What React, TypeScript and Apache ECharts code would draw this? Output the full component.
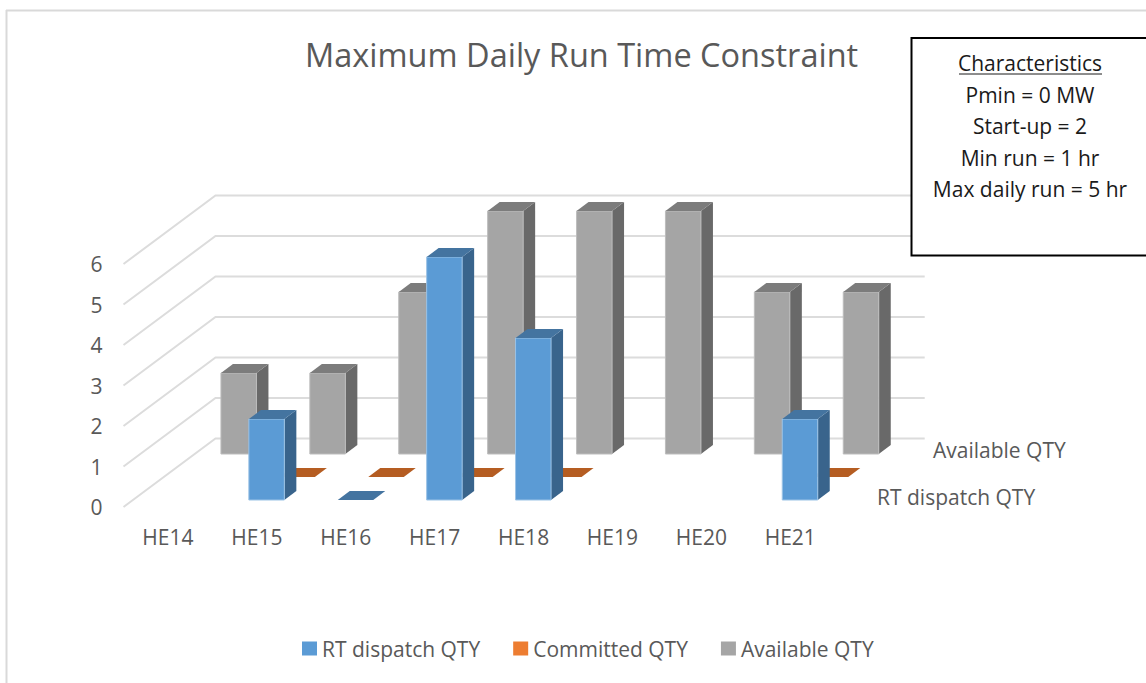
import React, { useEffect, useRef } from "react";
import * as echarts from "echarts";

const categories = ["HE14", "HE15", "HE16", "HE17", "HE18", "HE19", "HE20", "HE21"];
const yTicks = [0, 1, 2, 3, 4, 5, 6];
const rtValues: (number | null)[] = [null, 2, 0, 6, 4, null, null, 2];
const committed: (number | null)[] = [null, 0, 0, 0, 0, null, null, 0];
const available: (number | null)[] = [2, 2, 4, 6, 6, 6, 4, 4];
const boxLines = ["Pmin = 0 MW", "Start-up = 2", "Min run = 1 hr", "Max daily run = 5 hr"];

const FONT = "'Open Sans', sans-serif";
const DEPTH_X = 92;
const DEPTH_Y = 68.5;
const BAR_W = 35.5;
const TEXT_SIZE = 21;

function pts(values: (number | null)[]) {
  return values.map((v, i) => [i, v]).filter((d) => d[1] !== null);
}

function barRenderer(depth: number, front: string, top: string, side: string, edge: string) {
  return (_p: any, api: any) => {
    const cat = api.value(0);
    const v = api.value(1);
    const head = api.coord([cat, v]);
    const foot = api.coord([cat, 0]);
    const x0 = foot[0] - 8 + depth * 30.5;
    const x1 = x0 + BAR_W;
    const shift = 7 + depth * 23;
    const yB = foot[1] - shift;
    const yT = head[1] - shift;
    const sx = 12;
    const sy = 9;
    const children: any[] = [];
    if (v > 0) {
      children.push({
        type: "polygon",
        shape: { points: [[x1, yT], [x1 + sx, yT - sy], [x1 + sx, yB - sy], [x1, yB]] },
        style: { fill: side },
      });
      children.push({
        type: "polygon",
        shape: { points: [[x0, yB], [x1, yB], [x1, yT], [x0, yT]] },
        style: { fill: front, stroke: edge, lineWidth: 1 },
      });
    }
    children.push({
      type: "polygon",
      shape: { points: [[x0, yT], [x1, yT], [x1 + sx, yT - sy], [x0 + sx, yT - sy]] },
      style: { fill: top },
    });
    return { type: "group", children };
  };
}

function wallRenderer(_p: any, api: any) {
  const v = api.value(1);
  const band = api.size([1, 0])[0];
  const c = api.coord([0, v]);
  const left = c[0] - band / 2;
  const right = left + band * categories.length;
  return {
    type: "polyline",
    shape: {
      points: [
        [left, c[1]],
        [left + DEPTH_X, c[1] - DEPTH_Y],
        [right + DEPTH_X - 2, c[1] - DEPTH_Y],
      ],
    },
    style: { fill: "none", stroke: "#DCDCDC", lineWidth: 2 },
  };
}

export default function App() {
  const ref = useRef<HTMLDivElement>(null);
  useEffect(() => {
    const chart = echarts.init(ref.current!, null, { renderer: "svg" });
    chart.setOption({
      animation: false,
      backgroundColor: "#fff",
      title: {
        text: "Maximum Daily Run Time Constraint",
        left: 300,
        top: 33,
        textStyle: { fontFamily: FONT, fontSize: 32.5, fontWeight: "normal", color: "#595959" },
      },
      legend: {
        left: 297,
        top: 633,
        itemWidth: 15,
        itemHeight: 14,
        itemGap: 33,
        icon: "rect",
        data: ["RT dispatch QTY", "Committed QTY", "Available QTY"],
        textStyle: { fontFamily: FONT, fontSize: TEXT_SIZE, color: "#595959" },
      },
      grid: { left: 123.5, top: 264, width: 711.2, height: 243 },
      xAxis: {
        type: "category",
        data: categories,
        axisLine: { show: false },
        axisTick: { show: false },
        axisLabel: { margin: 19, fontFamily: FONT, fontSize: TEXT_SIZE, color: "#595959" },
      },
      yAxis: {
        type: "value",
        min: 0,
        max: yTicks[yTicks.length - 1],
        interval: 1,
        axisLine: { show: false },
        axisTick: { show: false },
        splitLine: { show: false },
        axisLabel: { margin: 21, padding: [0, 0, 4, 0], fontFamily: FONT, fontSize: TEXT_SIZE, color: "#595959" },
      },
      series: [
        {
          name: "grid",
          type: "custom",
          silent: true,
          renderItem: wallRenderer,
          encode: { x: 0, y: 1 },
          data: yTicks.map((t) => [0, t]),
        },
        {
          name: "Available QTY",
          type: "custom",
          silent: true,
          renderItem: barRenderer(2, "#A5A5A5", "#7C7C7C", "#696969", "#BDBDBD"),
          itemStyle: { color: "#A5A5A5" },
          encode: { x: 0, y: 1 },
          data: pts(available),
        },
        {
          name: "Committed QTY",
          type: "custom",
          silent: true,
          renderItem: barRenderer(1, "#ED7D31", "#B55D22", "#A3531F", "#F4A26B"),
          itemStyle: { color: "#ED7D31" },
          encode: { x: 0, y: 1 },
          data: pts(committed),
        },
        {
          name: "RT dispatch QTY",
          type: "custom",
          silent: true,
          renderItem: barRenderer(0, "#5B9BD5", "#4474A0", "#39648C", "#9CC3E6"),
          itemStyle: { color: "#5B9BD5" },
          encode: { x: 0, y: 1 },
          data: pts(rtValues),
        },
      ],
      graphic: [
        { type: "line", z: 50, shape: { x1: 6, y1: 10.5, x2: 1146, y2: 10.5 }, style: { stroke: "#D9D9D9", lineWidth: 2 } },
        { type: "line", z: 50, shape: { x1: 6.5, y1: 10, x2: 6.5, y2: 683 }, style: { stroke: "#D9D9D9", lineWidth: 2 } },
        {
          type: "text",
          z: 50,
          x: 933,
          y: 450,
          style: { text: "Available QTY", fontFamily: FONT, fontSize: TEXT_SIZE, fill: "#595959", verticalAlign: "middle" },
        },
        {
          type: "text",
          z: 50,
          x: 877,
          y: 497,
          style: { text: "RT dispatch QTY", fontFamily: FONT, fontSize: TEXT_SIZE, fill: "#595959", verticalAlign: "middle" },
        },
        {
          type: "rect",
          z: 60,
          shape: { x: 911.5, y: 38, width: 240, height: 217.5 },
          style: { fill: "#fff", stroke: "#000", lineWidth: 2 },
        },
        {
          type: "text",
          z: 61,
          x: 1030,
          y: 63,
          style: { text: "Characteristics", fontFamily: FONT, fontSize: TEXT_SIZE, fill: "#1a1a1a", align: "center", verticalAlign: "middle" },
        },
        { type: "line", z: 61, shape: { x1: 959, y1: 74, x2: 1102, y2: 74 }, style: { stroke: "#1a1a1a", lineWidth: 1 } },
        ...boxLines.map((t, i) => ({
          type: "text",
          z: 61,
          x: 1030,
          y: 95 + i * 31.4,
          style: { text: t, fontFamily: FONT, fontSize: TEXT_SIZE, fill: "#1a1a1a", align: "center", verticalAlign: "middle" },
        })),
      ],
    });
    return () => chart.dispose();
  }, []);
  return (
    <div
      ref={ref}
      style={{ position: "fixed", left: 0, top: 0, width: 1146, height: 683, background: "#fff" }}
    />
  );
}
